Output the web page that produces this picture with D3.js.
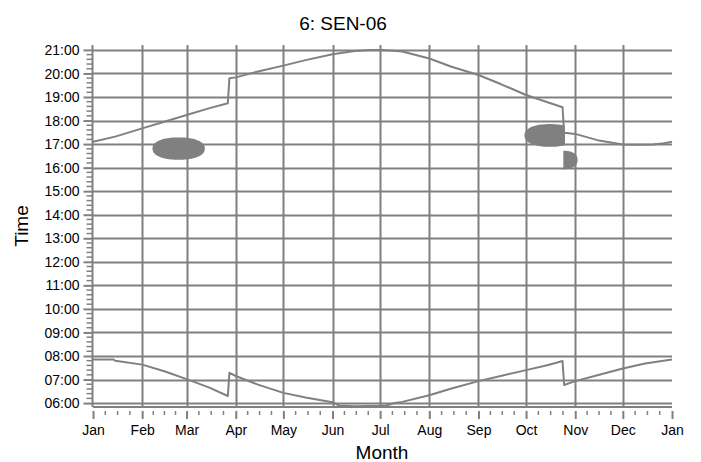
<!DOCTYPE html>
<html>
<head>
<meta charset="utf-8">
<script src="https://cdn.jsdelivr.net/npm/d3@7"></script>
<style>
  html, body { margin: 0; padding: 0; background: #fff; }
  svg { display: block; }
  text { font-family: "Liberation Sans", Arial, sans-serif; fill: #000; }
</style>
</head>
<body>
<svg id="chart" width="701" height="462"></svg>
<script>
// Month tick labels along the bottom axis
const monthLabels = ["Jan","Feb","Mar","Apr","May","Jun","Jul","Aug","Sep","Oct","Nov","Dec","Jan"];

// Hour tick labels on the left axis
const hourLabels = ["06:00","07:00","08:00","09:00","10:00","11:00","12:00","13:00",
                    "14:00","15:00","16:00","17:00","18:00","19:00","20:00","21:00"];

// Sunset times through the year (clock change at end of March and October)
const sunsetDates = ["2006-01-01","2006-01-15","2006-02-01","2006-02-15","2006-03-01","2006-03-15",
  "2006-03-27","2006-03-28","2006-04-01","2006-04-15","2006-05-01","2006-05-15","2006-06-01",
  "2006-06-15","2006-06-25","2006-07-01","2006-07-10","2006-07-15","2006-08-01","2006-08-15",
  "2006-09-01","2006-09-15","2006-10-01","2006-10-15","2006-10-24","2006-10-25","2006-11-01",
  "2006-11-15","2006-12-01","2006-12-10","2006-12-20","2006-12-27","2007-01-01"];
const sunsetTimes = ["17:06","17:19","17:40","17:57","18:14","18:31",
  "18:44","19:48","19:50","20:05","20:20","20:34","20:49",
  "20:57","21:00","21:00","20:58","20:56","20:38","20:17",
  "19:56","19:33","19:05","18:46","18:34","17:29","17:26",
  "17:10","16:59","16:58","16:59","17:02","17:06"];

// Sunrise times through the year
const sunriseDates = ["2006-01-01","2006-01-14","2006-01-15","2006-02-01","2006-02-15","2006-03-01",
  "2006-03-15","2006-03-27","2006-03-28","2006-04-01","2006-04-15","2006-05-01","2006-05-15",
  "2006-06-01","2006-06-05","2006-06-15","2006-07-01","2006-07-05","2006-07-10","2006-07-15",
  "2006-08-01","2006-08-15","2006-09-01","2006-09-15","2006-10-01","2006-10-15","2006-10-24",
  "2006-10-25","2006-11-01","2006-11-15","2006-12-01","2006-12-15","2007-01-01"];
const sunriseTimes = ["07:51","07:51","07:48","07:38","07:21","07:01",
  "06:40","06:18","07:17","07:09","06:47","06:26","06:14",
  "06:02","05:54","05:52","05:53","05:54","06:00","06:03",
  "06:20","06:37","06:56","07:09","07:24","07:37","07:47",
  "06:46","06:56","07:11","07:28","07:41","07:51"];

// Shaded periods: extent of each patch (dates and clock times) and the
// window of dates in which it is visible
const patchFrom    = ["2006-02-07T12","2006-09-30","2006-10-16"];
const patchTo      = ["2006-03-12T12","2006-11-01","2006-11-02T12"];
const patchTop     = ["17:17","17:51","16:43"];
const patchBottom  = ["16:20","16:53","15:56"];
const patchShowFrom = ["2006-01-01","2006-01-01","2006-10-24T12"];
const patchShowTo   = ["2007-01-01","2006-10-25T12","2007-01-01"];

const parseDay = d3.timeParse("%Y-%m-%d");
const parseDayHour = d3.timeParse("%Y-%m-%dT%H");
const toDate = s => s.includes("T") ? parseDayHour(s) : parseDay(s);
const toHours = s => { const [h, m] = s.split(":").map(Number); return h + m / 60; };

const sunset = sunsetDates.map((d, i) => ({ date: toDate(d), h: toHours(sunsetTimes[i]) }));
const sunrise = sunriseDates.map((d, i) => ({ date: toDate(d), h: toHours(sunriseTimes[i]) }));
const patches = patchFrom.map((d, i) => ({
  from: toDate(d), to: toDate(patchTo[i]),
  top: toHours(patchTop[i]), bottom: toHours(patchBottom[i]),
  showFrom: toDate(patchShowFrom[i]), showTo: toDate(patchShowTo[i])
}));

const svg = d3.select("#chart");
const grey = "#808080";

const x0 = 93, x1 = 672, yTop = 45, yBottom = 407;
const yearStart = new Date(2006, 0, 1), yearEnd = new Date(2007, 0, 1);

const x = d3.scaleTime().domain([yearStart, yearEnd]).range([x0, x1]);
const y = d3.scaleLinear().domain([5 + 50 / 60, 21 + 12.5 / 60]).range([yBottom, yTop]);

const months = d3.timeMonth.range(yearStart, d3.timeDay.offset(yearEnd, 1));
const hours = d3.range(6, 22);

// Horizontal grid lines, one per hour
svg.append("g").selectAll("line").data(hours).join("line")
  .attr("x1", x0).attr("x2", x1)
  .attr("y1", d => Math.round(y(d)) + 0.5).attr("y2", d => Math.round(y(d)) + 0.5)
  .attr("stroke", grey).attr("stroke-width", 2);

// Vertical grid lines at month boundaries (Feb to Dec)
svg.append("g").selectAll("line").data(months.slice(1, 12)).join("line")
  .attr("x1", d => Math.round(x(d)) + 0.5).attr("x2", d => Math.round(x(d)) + 0.5)
  .attr("y1", yTop).attr("y2", yBottom)
  .attr("stroke", grey).attr("stroke-width", 2);

// Bottom frame line
svg.append("line")
  .attr("x1", x0).attr("x2", x1).attr("y1", yBottom).attr("y2", yBottom)
  .attr("stroke", grey).attr("stroke-width", 2);

// Shaded patches: slightly squared ovals cut to their visible window
const defs = svg.append("defs");
patches.forEach((p, i) => {
  defs.append("clipPath").attr("id", "patch-clip-" + i)
    .append("rect")
    .attr("x", x(p.showFrom)).attr("width", x(p.showTo) - x(p.showFrom))
    .attr("y", yTop).attr("height", yBottom - yTop);
});
const squareness = 2.25;
const angles = d3.range(0, 2 * Math.PI, Math.PI / 48);
const patchPath = p => {
  const cx = (x(p.from) + x(p.to)) / 2, cy = (y(p.top) + y(p.bottom)) / 2;
  const a = (x(p.to) - x(p.from)) / 2, b = (y(p.bottom) - y(p.top)) / 2;
  const e = 2 / squareness;
  const pts = angles.map(t => {
    const c = Math.cos(t), s = Math.sin(t);
    return [cx + a * Math.sign(c) * Math.pow(Math.abs(c), e),
            cy + b * Math.sign(s) * Math.pow(Math.abs(s), e)];
  });
  return d3.line().curve(d3.curveLinearClosed)(pts);
};
svg.append("g").selectAll("path").data(patches).join("path")
  .attr("clip-path", (d, i) => `url(#patch-clip-${i})`)
  .attr("d", patchPath)
  .attr("fill", grey);

// Sunrise and sunset lines
const line = d3.line().x(d => x(d.date)).y(d => y(d.h));
svg.append("g").selectAll("path").data([sunrise, sunset]).join("path")
  .attr("d", line)
  .attr("fill", "none").attr("stroke", grey).attr("stroke-width", 2)
  .attr("stroke-linejoin", "round");

// Left axis: hours with 12-minute minor ticks
const yAxis = d3.axisLeft(y)
  .tickValues(hours)
  .tickFormat((d, i) => hourLabels[i])
  .tickSize(9).tickPadding(4);
const yMinor = d3.range(6, 21, 0.2).filter(v => Math.abs(v - Math.round(v)) > 0.01);

const gy = svg.append("g").attr("transform", `translate(${x0 - 0.5},0)`);
gy.call(yAxis);
gy.select(".domain").remove();
gy.append("line").attr("y1", yTop).attr("y2", yBottom).attr("stroke", grey).attr("stroke-width", 2);
gy.selectAll(".tick line").attr("stroke", grey).attr("stroke-width", 2);
gy.selectAll(".tick text").attr("font-size", 14).attr("fill", "#000")
  .attr("font-family", "Liberation Sans, Arial, sans-serif").attr("dy", "0.33em");
gy.append("g").selectAll("line").data(yMinor).join("line")
  .attr("x1", -6).attr("x2", 0)
  .attr("y1", d => y(d)).attr("y2", d => y(d))
  .attr("stroke", grey).attr("stroke-width", 1.5);

// Bottom axis: months with three minor ticks per month
const xAxis = d3.axisBottom(x)
  .tickValues(months)
  .tickFormat((d, i) => monthLabels[i])
  .tickSize(8).tickPadding(6);
const xMinor = [];
months.slice(0, 12).forEach(m => {
  const next = d3.timeMonth.offset(m, 1);
  for (let k = 1; k < 4; k++) xMinor.push(new Date(+m + (next - m) * k / 4));
});
const gx = svg.append("g").attr("transform", `translate(0,${yBottom + 4})`);
gx.call(xAxis);
gx.select(".domain").remove();
gx.selectAll(".tick line").attr("stroke", grey).attr("stroke-width", 2);
gx.selectAll(".tick text").attr("font-size", 14).attr("fill", "#000")
  .attr("font-family", "Liberation Sans, Arial, sans-serif");
gx.append("g").selectAll("line").data(xMinor).join("line")
  .attr("x1", d => x(d)).attr("x2", d => x(d))
  .attr("y1", 0).attr("y2", 4)
  .attr("stroke", grey).attr("stroke-width", 1.5);

// Titles
svg.append("text").attr("x", 343).attr("y", 30).attr("text-anchor", "middle")
  .attr("font-size", 19).text("6: SEN-06");
svg.append("text").attr("x", 382).attr("y", 459).attr("text-anchor", "middle")
  .attr("font-size", 19).text("Month");
svg.append("text").attr("transform", "translate(28,226) rotate(-90)")
  .attr("text-anchor", "middle").attr("font-size", 19).text("Time");
</script>
</body>
</html>
